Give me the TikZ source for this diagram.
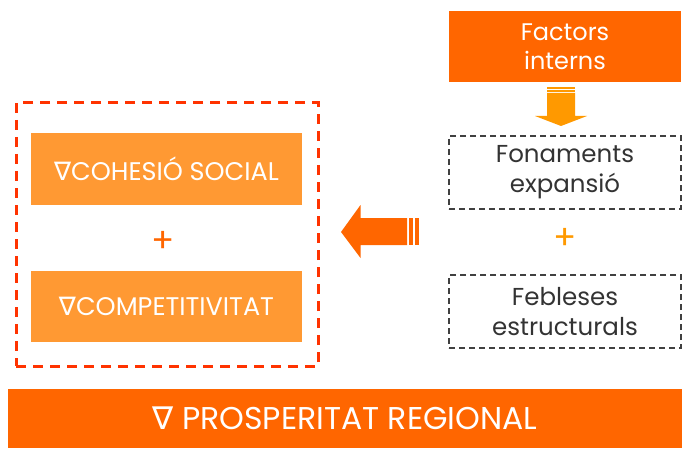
\documentclass[tikz,border=0pt]{standalone}
\usepackage{fontspec}
\setmainfont{Poppins}
\newfontfamily\symfont{DejaVu Sans}
\definecolor{dkor}{HTML}{FF6600}
\definecolor{ltor}{HTML}{FF9933}
\definecolor{gold}{HTML}{FF9900}
\definecolor{redor}{HTML}{FF3300}
\definecolor{txtgray}{HTML}{333333}
\definecolor{dashgray}{HTML}{404040}
\begin{document}
\begin{tikzpicture}[x=1pt,y=-1pt,
  lightbox/.style={fill=ltor, text=white, minimum width=271pt, minimum height=71pt, inner sep=0pt,
    font=\fontsize{25.5}{30}\selectfont},
  darkbox/.style={fill=dkor, text=white, inner sep=0pt, align=center},
  graybox/.style={draw=dashgray, line width=1.5pt, dash pattern=on 6pt off 4pt, text=txtgray,
    minimum width=232pt, minimum height=73pt, inner sep=0pt, align=center,
    font=\fontsize{24.5}{30}\selectfont},
  plusnode/.style={font=\fontsize{34}{34}\selectfont, inner sep=0pt}]
\useasboundingbox (0,0) rectangle (690,449);

% left group
\node[draw=redor, line width=3pt, dash pattern=on 10pt off 7pt, minimum width=302pt, minimum height=263pt, inner sep=0pt]
  (group) at (167,234.5) {};
\node[lightbox] (cohesio) at (166.5,169) {{\symfont ∇}COHESIÓ SOCIAL};
\node[plusnode, text=dkor] (plusL) at (163.5,242) {+};
\node[lightbox] (compet) at (166.5,306) {{\symfont ∇}COMPETITIVITAT};

% right column
\node[darkbox, minimum width=232pt, minimum height=71pt, font=\fontsize{24}{29}\selectfont]
  (factors) at (565,46.5) {Factors\\interns};
\node[graybox] (fonaments) at (565,172.5) {Fonaments\\expansió};
\node[plusnode, text=gold] (plusR) at (565,239) {+};
\node[graybox] (febleses) at (565,311.5) {Febleses\\estructurals};

% bottom bar
\node[darkbox, minimum width=674pt, minimum height=59pt, font=\fontsize{31.5}{34}\selectfont]
  (prosp) at (345,418.5) {{\symfont ∇} PROSPERITAT REGIONAL};

% down arrow (factors -> fonaments)
\fill[gold] (547,87.3) rectangle (575,89);
\fill[gold] (547,90.5) rectangle (575,92);
\fill[gold] (547,93) -- (575,93) -- (575,116) -- (587,116) -- (561,126) -- (535,116) -- (547,116) -- cycle;

% left arrow (fonaments/febleses -> group)
\fill[dkor] (409,218) rectangle (413,245);
\fill[dkor] (415,218) rectangle (419,245);
\fill[dkor] (407,218) -- (360.5,218) -- (360.5,205) -- (341,232) -- (360.5,258) -- (360.5,245) -- (407,245) -- cycle;
\end{tikzpicture}
\end{document}
